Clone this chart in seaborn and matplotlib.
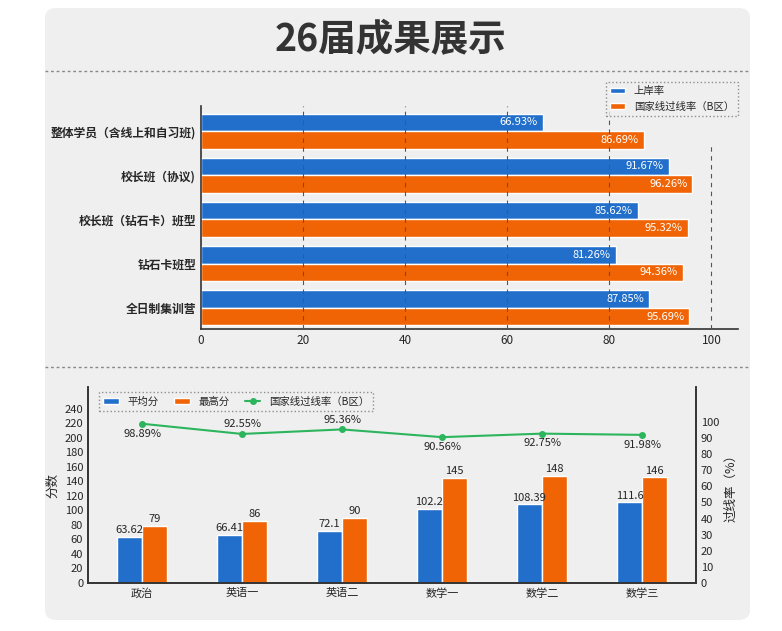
import pandas as pd
import numpy as np
import matplotlib.pyplot as plt
import seaborn as sns
from matplotlib.patches import FancyBboxPatch
from matplotlib.lines import Line2D

sns.set_style("white")
plt.rcParams['font.family'] = ['Noto Sans CJK SC', 'DejaVu Sans']
plt.rcParams['axes.unicode_minus'] = False

BLUE = '#216fcb'
ORANGE = '#f06405'
GREEN = '#2db55d'
BG = '#efefef'

# ---- datos ----
clases = ['整体学员（含线上和自习班)', '校长班（协议)', '校长班（钻石卡）班型', '钻石卡班型', '全日制集训营']
shangan = [66.93, 91.67, 85.62, 81.26, 87.85]
guoxian = [86.69, 96.26, 95.32, 94.36, 95.69]

materias = ['政治', '英语一', '英语二', '数学一', '数学二', '数学三']
promedio = [63.62, 66.41, 72.1, 102.2, 108.39, 111.6]
maximo = [79, 86, 90, 145, 148, 146]
tasa = [98.89, 92.55, 95.36, 90.56, 92.75, 91.98]
tasa_arriba = [False, True, True, False, False, False]

fig = plt.figure(figsize=(7.82, 6.31), dpi=100)
fig.patch.set_facecolor('white')
W, H = 782, 631
fig.patches.append(FancyBboxPatch((45 / W, 11 / H), 705 / W, 612 / H,
                                  boxstyle='round,pad=0,rounding_size=0.015',
                                  transform=fig.transFigure, facecolor=BG,
                                  edgecolor='none', zorder=-5))
for yy in [71, 367]:
    fig.add_artist(Line2D([45 / W, 750 / W], [1 - yy / H, 1 - yy / H], color='#888888',
                          lw=1, ls=(0, (2, 2)), transform=fig.transFigure, zorder=-4))
fig.text(0.5, 1 - 40 / H, '26届成果展示', ha='center', va='center',
         fontsize=27, fontweight='bold', color='#333333')

# ---- gráfico superior ----
df1 = pd.DataFrame({'clase': clases * 2,
                    'valor': shangan + guoxian,
                    'serie': ['上岸率'] * 5 + ['国家线过线率（B区）'] * 5})
ax1 = fig.add_axes([201 / W, 1 - 329 / H, 537 / W, 223 / H])
ax1.set_facecolor('none')
sns.barplot(data=df1, y='clase', x='valor', hue='serie', orient='h',
            palette=[BLUE, ORANGE], width=0.8, ax=ax1, saturation=1, zorder=2)
ax1.set_xlim(0, 105.2)
ax1.set_ylim(4.48, -0.57)
for x in [20, 40, 60, 80]:
    ax1.axvline(x, color='#555555', lw=0.8, ls=(0, (4, 4)), zorder=3)
ax1.plot([100, 100], [4.48, 0.3], color='#555555', lw=0.8, ls=(0, (4, 4)), zorder=3)
for i in range(5):
    ax1.text(shangan[i] - 1, i - 0.2, f'{shangan[i]:.2f}%', color='white',
             ha='right', va='center', fontsize=8, zorder=4)
    ax1.text(guoxian[i] - 1, i + 0.2, f'{guoxian[i]:.2f}%', color='white',
             ha='right', va='center', fontsize=8, zorder=4)
ax1.set_xticks([0, 20, 40, 60, 80, 100])
ax1.set_xlabel('')
ax1.set_ylabel('')
ax1.tick_params(axis='both', length=0, labelsize=8.5)
for lab in ax1.get_yticklabels():
    lab.set_fontweight('bold')
for s in ['top', 'right']:
    ax1.spines[s].set_visible(False)
for s in ['left', 'bottom']:
    ax1.spines[s].set_color('#333333')
    ax1.spines[s].set_linewidth(1.2)
leg1 = ax1.legend(loc='upper right', bbox_to_anchor=(1.01, 1.13), fontsize=7.5,
                  handlelength=1.5, handleheight=0.4, frameon=True, fancybox=False)
leg1.get_frame().set_linestyle(':')
leg1.get_frame().set_edgecolor('#777777')
leg1.get_frame().set_facecolor(BG)

# ---- gráfico inferior ----
df2 = pd.DataFrame({'materia': materias * 2,
                    'valor': promedio + maximo,
                    'serie': ['平均分'] * 6 + ['最高分'] * 6})
ax2 = fig.add_axes([88 / W, 1 - 583 / H, 608 / W, 196 / H])
ax2.set_facecolor('none')
sns.barplot(data=df2, x='materia', y='valor', hue='serie', palette=[BLUE, ORANGE],
            width=0.5, ax=ax2, saturation=1, zorder=2)
ax2.set_ylim(0, 270)
ax2.set_yticks(range(0, 241, 20))
ax2.set_xlim(-0.54, 5.54)
for i in range(6):
    ax2.text(i - 0.125, promedio[i] + 2, f'{promedio[i]:g}', ha='center', va='bottom', fontsize=8)
    ax2.text(i + 0.125, maximo[i] + 2, f'{maximo[i]:g}', ha='center', va='bottom', fontsize=8)
ax2.set_xlabel('')
ax2.set_ylabel('分数', fontsize=9)
ax2.tick_params(axis='both', length=0, labelsize=8)

ax3 = ax2.twinx()
ax3.plot(range(6), tasa, color=GREEN, marker='o', markersize=4, lw=1.5,
         label='国家线过线率（B区）')
ax3.set_ylim(0, 121.7)
ax3.set_yticks(range(0, 101, 10))
ax3.set_ylabel('过线率（%）', fontsize=9)
ax3.tick_params(axis='y', length=0, labelsize=8)
for i in range(6):
    off = 3 if tasa_arriba[i] else -3
    ax3.text(i, tasa[i] + off, f'{tasa[i]:.2f}%', ha='center',
             va='bottom' if tasa_arriba[i] else 'top', fontsize=8)
for ax in [ax2, ax3]:
    ax.spines['top'].set_visible(False)
    for s in ['left', 'right', 'bottom']:
        ax.spines[s].set_color('#333333')
        ax.spines[s].set_linewidth(1.2)

h2, l2 = ax2.get_legend_handles_labels()
h3, l3 = ax3.get_legend_handles_labels()
ax2.get_legend().remove()
leg2 = ax3.legend(h2 + h3, l2 + l3, loc='upper left', bbox_to_anchor=(0.01, 1.0),
                  ncol=3, fontsize=7.5, handlelength=1.5, handleheight=0.4,
                  frameon=True, fancybox=False, columnspacing=1.5)
leg2.get_frame().set_linestyle(':')
leg2.get_frame().set_edgecolor('#777777')
leg2.get_frame().set_facecolor(BG)

fig.savefig('out.png', dpi=100)
